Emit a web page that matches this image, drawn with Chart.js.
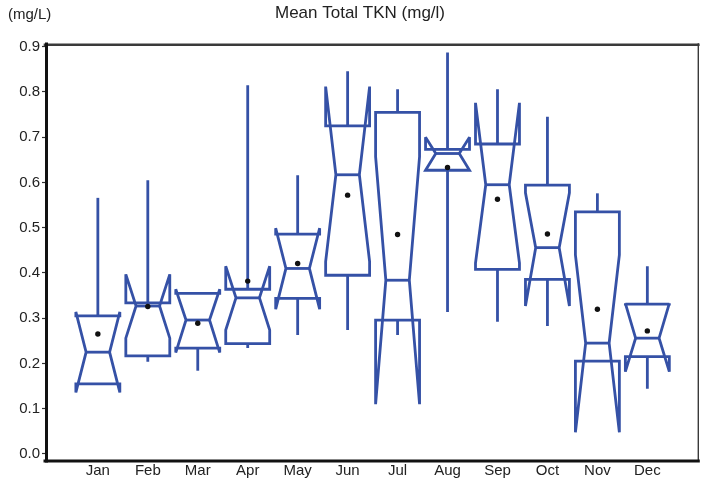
<!DOCTYPE html>
<html>
<head>
<meta charset="utf-8">
<script src="https://cdn.jsdelivr.net/npm/chart.js@4.4.1/dist/chart.umd.min.js"></script>
<style>
  html, body { margin: 0; padding: 0; background: #fff; }
  #wrap { width: 701px; height: 481px; }
</style>
</head>
<body>
<div id="wrap"><canvas id="tkn"></canvas></div>
<script>
// Monthly notched box plot values (mg/L)
const months = ['Jan', 'Feb', 'Mar', 'Apr', 'May', 'Jun', 'Jul', 'Aug', 'Sep', 'Oct', 'Nov', 'Dec'];
const whiskerHigh = [0.566, 0.605, 0.355, 0.815, 0.616, 0.846, 0.806, 0.887, 0.806, 0.745, 0.576, 0.415];
const notchHigh   = [0.314, 0.397, 0.364, 0.415, 0.499, 0.812, 0.657, 0.700, 0.776, 0.577, 0.440, 0.333];
const q3          = [0.305, 0.334, 0.355, 0.364, 0.486, 0.725, 0.755, 0.673, 0.685, 0.594, 0.535, 0.331];
const median      = [0.225, 0.327, 0.296, 0.345, 0.410, 0.617, 0.384, 0.664, 0.595, 0.456, 0.245, 0.256];
const q1          = [0.155, 0.217, 0.234, 0.244, 0.344, 0.395, 0.296, 0.627, 0.408, 0.386, 0.205, 0.215];
const notchLow    = [0.136, 0.256, 0.224, 0.274, 0.320, 0.425, 0.110, 0.627, 0.422, 0.327, 0.048, 0.182];
const whiskerLow  = [0.155, 0.204, 0.184, 0.234, 0.263, 0.274, 0.263, 0.314, 0.292, 0.283, 0.205, 0.144];
const mean        = [0.265, 0.326, 0.289, 0.382, 0.421, 0.572, 0.485, 0.633, 0.563, 0.486, 0.320, 0.272];
const yTickLabels = ['0.0', '0.1', '0.2', '0.3', '0.4', '0.5', '0.6', '0.7', '0.8', '0.9'];

const BLUE = '#3551a6';
const FONT = '"Liberation Sans", Arial, sans-serif';

// draws the notched boxes and whiskers through the chart scales
const notchBoxes = {
  id: 'notchBoxes',
  beforeDatasetsDraw(chart) {
    const ctx = chart.ctx;
    const x = chart.scales.x, y = chart.scales.y;
    const Y = v => y.getPixelForValue(v);
    ctx.save();
    ctx.strokeStyle = BLUE;
    ctx.lineWidth = 2.8;
    ctx.lineJoin = 'miter';
    ctx.miterLimit = 2.5;
    ctx.lineCap = 'butt';
    months.forEach((m, i) => {
      const c = i + 1;
      const xc = x.getPixelForValue(c);
      const L = x.getPixelForValue(c - 0.44), R = x.getPixelForValue(c + 0.44);
      const Lm = x.getPixelForValue(c - 0.235), Rm = x.getPixelForValue(c + 0.235);

      // whiskers
      ctx.beginPath();
      ctx.moveTo(xc, Y(q3[i])); ctx.lineTo(xc, Y(whiskerHigh[i]));
      ctx.moveTo(xc, Y(q1[i])); ctx.lineTo(xc, Y(whiskerLow[i]));
      ctx.stroke();

      // box outline with notch
      ctx.beginPath();
      ctx.moveTo(L, Y(q1[i]));
      ctx.lineTo(L, Y(notchLow[i]));
      ctx.lineTo(Lm, Y(median[i]));
      ctx.lineTo(L, Y(notchHigh[i]));
      ctx.lineTo(L, Y(q3[i]));
      ctx.lineTo(R, Y(q3[i]));
      ctx.lineTo(R, Y(notchHigh[i]));
      ctx.lineTo(Rm, Y(median[i]));
      ctx.lineTo(R, Y(notchLow[i]));
      ctx.lineTo(R, Y(q1[i]));
      ctx.closePath();
      ctx.stroke();

      // median line
      ctx.beginPath();
      ctx.moveTo(Lm, Y(median[i]));
      ctx.lineTo(Rm, Y(median[i]));
      ctx.stroke();
    });
    ctx.restore();
  }
};

// frame lines and the two top texts
const frame = {
  id: 'frame',
  afterDraw(chart) {
    const ctx = chart.ctx;
    const a = chart.chartArea;
    ctx.save();
    ctx.lineCap = 'square';
    // top
    ctx.strokeStyle = '#3a3a3a';
    ctx.lineWidth = 2.6;
    ctx.beginPath(); ctx.moveTo(a.left, a.top + 0.7); ctx.lineTo(a.right, a.top + 0.7); ctx.stroke();
    // right
    ctx.lineWidth = 1.4;
    ctx.beginPath(); ctx.moveTo(a.right, a.top); ctx.lineTo(a.right, a.bottom); ctx.stroke();
    // left and bottom axes
    ctx.strokeStyle = '#111';
    ctx.lineWidth = 3;
    ctx.beginPath(); ctx.moveTo(a.left + 1.5, a.top); ctx.lineTo(a.left + 1.5, a.bottom); ctx.stroke();
    ctx.beginPath(); ctx.moveTo(a.left, a.bottom); ctx.lineTo(a.right, a.bottom); ctx.stroke();

    ctx.fillStyle = '#222';
    ctx.textBaseline = 'middle';
    ctx.textAlign = 'left';
    ctx.font = '15px ' + FONT;
    ctx.fillText('(mg/L)', 8, 15);
    ctx.textAlign = 'center';
    ctx.font = '17px ' + FONT;
    ctx.fillText('Mean Total TKN (mg/l)', 360, 13);
    ctx.restore();
  }
};

const ctx = document.getElementById('tkn').getContext('2d');
new Chart(ctx, {
  type: 'scatter',
  data: {
    datasets: [{
      label: 'Mean',
      data: mean.map((v, i) => ({ x: i + 1, y: v })),
      pointRadius: 2.7,
      pointHoverRadius: 2.7,
      backgroundColor: '#111',
      borderWidth: 0
    }]
  },
  options: {
    responsive: true,
    maintainAspectRatio: false,
    animation: false,
    layout: { padding: { top: 44, right: 1, left: 0, bottom: 0 } },
    plugins: {
      legend: { display: false },
      title: { display: false },
      tooltip: { enabled: false }
    },
    scales: {
      x: {
        type: 'linear',
        min: -0.058,
        max: 13.02,
        afterBuildTicks: s => { s.ticks = months.map((m, i) => ({ value: i + 1 })); },
        afterFit: s => { s.height = 20; },
        grid: { display: false, drawTicks: false },
        border: { display: false },
        ticks: {
          autoSkip: false,
          maxRotation: 0,
          padding: 1,
          color: '#222',
          font: { family: FONT, size: 15 },
          callback: v => months[v - 1]
        }
      },
      y: {
        type: 'linear',
        min: -0.0155,
        max: 0.906,
        afterBuildTicks: s => { s.ticks = yTickLabels.map(t => ({ value: parseFloat(t) })); },
        afterFit: s => { s.width = 45; },
        grid: {
          drawOnChartArea: false,
          drawTicks: true,
          tickLength: 3,
          tickColor: '#333',
          tickWidth: 1.2
        },
        border: { display: false },
        ticks: {
          autoSkip: false,
          padding: 2,
          color: '#222',
          font: { family: FONT, size: 15 },
          callback: (v, i) => yTickLabels[i]
        }
      }
    }
  },
  plugins: [notchBoxes, frame]
});
</script>
</body>
</html>
